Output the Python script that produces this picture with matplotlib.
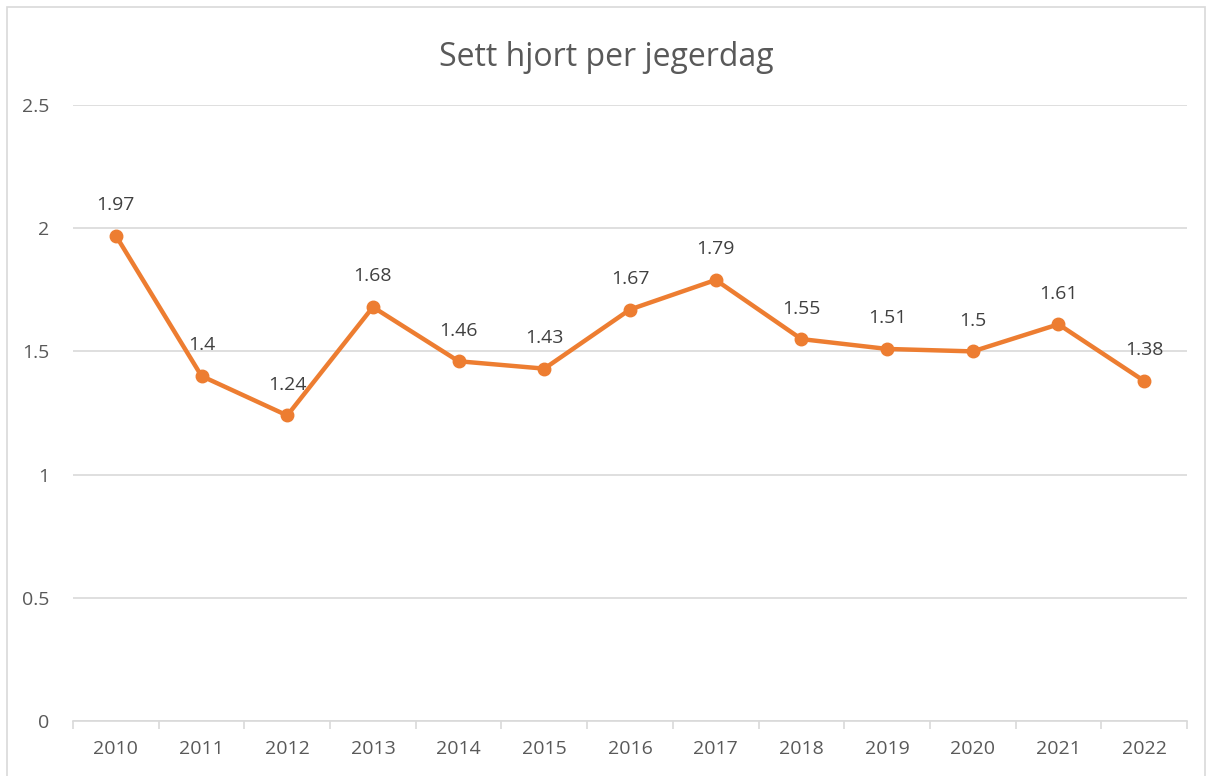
import matplotlib.pyplot as plt
from matplotlib.patches import Rectangle

# Data
years = ['2010', '2011', '2012', '2013', '2014', '2015', '2016',
         '2017', '2018', '2019', '2020', '2021', '2022']
sett_hjort = [1.97, 1.4, 1.24, 1.68, 1.46, 1.43, 1.67,
              1.79, 1.55, 1.51, 1.5, 1.61, 1.38]
labels = ['1.97', '1.4', '1.24', '1.68', '1.46', '1.43', '1.67',
          '1.79', '1.55', '1.51', '1.5', '1.61', '1.38']
y_ticks = [0, 0.5, 1, 1.5, 2, 2.5]
y_tick_labels = ['0', '0.5', '1', '1.5', '2', '2.5']

plt.rcParams['font.family'] = ['Open Sans', 'DejaVu Sans']

W, H = 1213, 776
fig = plt.figure(figsize=(W / 100, H / 100), dpi=100)
ax = fig.add_axes([73 / W, 1 - 721 / H, (1187 - 73) / W, (721 - 105) / H])

# outer chart border
fig.patches.append(Rectangle((7 / W, -0.01), (1205 - 7) / W, 1 - 7 / H + 0.01,
                             transform=fig.transFigure, fill=False,
                             edgecolor='#d9d9d9', linewidth=1.2))

x = list(range(len(years)))
ax.plot(x, sett_hjort, color='#ED7D31', linewidth=3.2, marker='o',
        markersize=9, zorder=3, solid_capstyle='round')

for xi, yi, lab in zip(x, sett_hjort, labels):
    ax.annotate(lab, (xi, yi), xytext=(0, 22), textcoords='offset points',
                ha='center', va='center', fontsize=14, color='#404040')

ax.set_xlim(-0.5, len(years) - 0.5)
ax.set_ylim(0, 2.5)
ax.set_yticks(y_ticks)
ax.set_yticklabels(y_tick_labels)
ax.set_xticks(x)
ax.set_xticklabels(years)
ax.set_xticks([i - 0.5 for i in range(len(years) + 1)], minor=True)

ax.grid(axis='y', color='#d9d9d9', linewidth=1.2)
ax.set_axisbelow(True)
for s in ['top', 'right', 'left']:
    ax.spines[s].set_visible(False)
ax.spines['bottom'].set_color('#d9d9d9')
ax.spines['bottom'].set_linewidth(1.2)

ax.tick_params(axis='y', length=0, pad=17, labelsize=14, labelcolor='#595959')
ax.tick_params(axis='x', which='major', length=0, pad=14, labelsize=14,
               labelcolor='#595959')
ax.tick_params(axis='x', which='minor', length=6, width=1.2, color='#d9d9d9')

fig.text(0.5, 1 - 57 / H, 'Sett hjort per jegerdag', ha='center', va='center',
         fontsize=23, color='#595959')

fig.savefig('out.png', dpi=100)
